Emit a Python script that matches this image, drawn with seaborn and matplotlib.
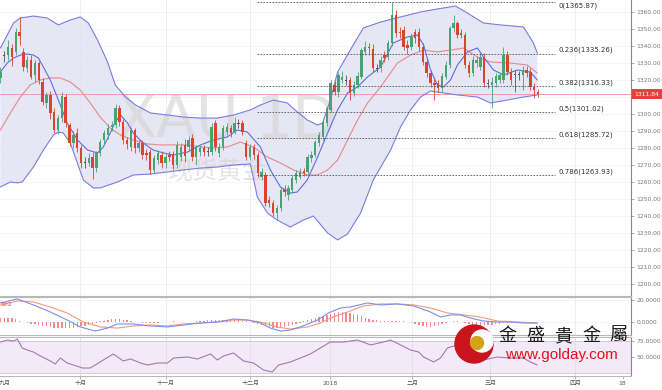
import numpy as np
import matplotlib
matplotlib.use("Agg")
import matplotlib.pyplot as plt
import seaborn as sns
from matplotlib.patches import Circle, Rectangle

# ---------------- data ----------------
opens = [1321.0, 1334.0, 1334.7, 1338.6, 1336.7, 1348.4, 1336.7, 1326.9, 1331.8, 1322.9,
         1329.8, 1319.0, 1306.3, 1311.2, 1301.4, 1290.6, 1297.5, 1310.2, 1293.5, 1282.7,
         1288.6, 1279.8, 1271.4, 1271.0, 1274.9, 1268.0, 1276.9, 1284.7, 1287.6, 1292.5,
         1293.5, 1303.3, 1295.5, 1284.7, 1280.8, 1290.6, 1279.8, 1282.7, 1276.9, 1277.8,
         1267.1, 1272.9, 1275.9, 1271.0, 1275.9, 1276.5, 1270.0, 1274.9, 1281.8, 1280.8,
         1285.7, 1274.9, 1277.8, 1279.8, 1278.0, 1277.8, 1294.5, 1276.9, 1280.8, 1289.6,
         1291.6, 1289.6, 1294.5, 1294.5, 1283.1, 1274.9, 1280.8, 1275.9, 1263.1, 1264.1,
         1249.4, 1247.5, 1241.6, 1244.5, 1255.7, 1252.4, 1255.3, 1261.2, 1263.1, 1266.7,
         1266.1, 1273.9, 1275.9, 1282.7, 1286.7, 1294.5, 1302.4, 1317.1, 1313.1, 1320.0,
         1320.0, 1320.0, 1312.2, 1317.1, 1322.0, 1336.7, 1339.6, 1338.0, 1326.9, 1326.9,
         1334.7, 1333.7, 1341.6, 1358.2, 1348.4, 1349.4, 1340.6, 1339.6, 1348.4, 1348.4,
         1339.6, 1330.8, 1323.9, 1318.0, 1318.0, 1315.1, 1322.0, 1328.8, 1350.4, 1353.3,
         1347.5, 1346.5, 1328.8, 1323.9, 1329.8, 1327.8, 1333.7, 1318.0, 1317.1, 1318.0,
         1320.0, 1320.0, 1334.7, 1324.9, 1323.0, 1322.7, 1322.9, 1325.9, 1324.9, 1316.1,
         1313.1]
closes = [1325.0, 1334.3, 1339.6, 1333.7, 1348.4, 1345.9, 1327.8, 1331.8, 1322.0, 1329.8,
          1320.0, 1307.3, 1311.2, 1300.4, 1290.6, 1297.5, 1310.6, 1294.5, 1282.7, 1287.6,
          1279.8, 1271.0, 1271.0, 1273.9, 1268.0, 1276.9, 1283.7, 1288.6, 1291.6, 1293.5,
          1303.3, 1295.5, 1284.7, 1282.4, 1290.6, 1279.8, 1282.7, 1275.9, 1275.9, 1267.1,
          1273.9, 1276.9, 1271.0, 1274.9, 1274.9, 1270.0, 1281.8, 1280.8, 1275.3, 1284.7,
          1274.9, 1279.8, 1279.8, 1277.8, 1277.6, 1292.5, 1280.8, 1280.8, 1291.6, 1292.5,
          1288.6, 1294.9, 1294.3, 1289.6, 1274.9, 1280.8, 1275.9, 1265.1, 1266.1, 1247.5,
          1247.5, 1241.6, 1244.5, 1255.3, 1254.3, 1256.3, 1262.2, 1265.1, 1266.1, 1265.1,
          1274.9, 1275.9, 1283.7, 1287.6, 1295.5, 1303.3, 1318.0, 1313.1, 1322.9, 1322.0,
          1319.5, 1312.2, 1317.1, 1322.4, 1337.6, 1339.6, 1338.6, 1326.9, 1326.3, 1331.8,
          1332.7, 1341.6, 1358.2, 1347.5, 1347.5, 1339.6, 1338.6, 1345.5, 1344.5, 1339.6,
          1330.8, 1323.9, 1318.0, 1317.1, 1315.1, 1322.4, 1328.8, 1350.4, 1353.3, 1346.5,
          1346.5, 1328.8, 1323.9, 1331.8, 1331.8, 1333.7, 1318.0, 1317.6, 1319.0, 1322.4,
          1322.9, 1334.7, 1324.9, 1320.0, 1322.7, 1323.0, 1325.9, 1323.9, 1316.1, 1314.1,
          1311.8]
highs = [1327.5, 1337.0, 1343.5, 1341.0, 1350.5, 1357.0, 1339.0, 1334.0, 1334.5, 1331.5,
         1331.0, 1321.0, 1313.0, 1313.5, 1303.5, 1299.5, 1313.0, 1312.0, 1295.0, 1290.0,
         1291.5, 1281.5, 1274.5, 1277.0, 1277.5, 1278.5, 1285.5, 1290.5, 1294.0, 1296.0,
         1306.0, 1305.5, 1297.0, 1286.5, 1292.5, 1292.0, 1285.0, 1284.5, 1279.5, 1279.5,
         1276.0, 1279.0, 1278.0, 1277.0, 1278.5, 1278.5, 1284.0, 1283.0, 1285.5, 1287.0,
         1288.0, 1282.0, 1282.0, 1282.0, 1280.5, 1294.5, 1296.5, 1283.0, 1293.5, 1294.5,
         1293.5, 1298.0, 1297.0, 1296.5, 1285.0, 1282.5, 1282.5, 1277.5, 1268.0, 1266.0,
         1251.5, 1249.5, 1246.5, 1257.0, 1258.0, 1258.5, 1264.0, 1267.0, 1268.0, 1268.5,
         1276.5, 1278.0, 1285.0, 1289.5, 1297.0, 1305.0, 1320.0, 1319.5, 1325.0, 1325.5,
         1323.0, 1322.0, 1319.5, 1324.5, 1339.0, 1343.0, 1342.0, 1341.0, 1329.5, 1334.0,
         1337.0, 1343.5, 1365.9, 1361.0, 1351.0, 1351.5, 1343.5, 1347.5, 1350.0, 1350.5,
         1342.0, 1333.0, 1326.0, 1320.5, 1320.0, 1324.0, 1331.0, 1352.0, 1358.5, 1355.0,
         1350.0, 1348.5, 1331.0, 1334.0, 1334.0, 1336.0, 1336.0, 1320.5, 1321.5, 1324.0,
         1325.0, 1339.5, 1337.0, 1327.0, 1326.0, 1325.5, 1328.0, 1328.0, 1327.0, 1318.0,
         1314.5]
lows = [1318.5, 1330.5, 1332.0, 1328.0, 1335.0, 1340.5, 1325.5, 1325.0, 1320.5, 1319.0,
        1317.5, 1305.5, 1303.5, 1297.0, 1289.0, 1288.5, 1295.5, 1292.5, 1281.0, 1280.0,
        1277.5, 1268.5, 1268.0, 1269.5, 1261.5, 1266.0, 1275.5, 1282.5, 1285.5, 1290.0,
        1291.5, 1293.0, 1282.5, 1279.5, 1278.5, 1277.0, 1277.5, 1273.5, 1273.0, 1264.5,
        1265.5, 1270.5, 1268.5, 1268.5, 1272.5, 1267.5, 1268.5, 1272.5, 1272.0, 1278.5,
        1272.5, 1270.0, 1275.5, 1275.5, 1275.0, 1276.0, 1278.5, 1274.5, 1279.0, 1287.5,
        1286.5, 1288.0, 1291.5, 1287.5, 1273.0, 1273.0, 1273.5, 1263.0, 1261.0, 1246.0,
        1245.0, 1240.0, 1237.6, 1243.0, 1252.0, 1249.5, 1253.5, 1259.5, 1261.5, 1263.5,
        1264.5, 1272.0, 1274.5, 1281.0, 1285.0, 1293.0, 1301.0, 1311.0, 1310.0, 1318.0,
        1317.0, 1308.5, 1310.5, 1315.5, 1320.5, 1334.5, 1335.0, 1325.0, 1324.5, 1325.0,
        1330.5, 1332.0, 1340.0, 1345.5, 1345.0, 1337.5, 1335.5, 1337.5, 1342.0, 1337.0,
        1329.0, 1321.5, 1316.0, 1308.0, 1313.0, 1313.0, 1320.5, 1327.0, 1348.5, 1344.5,
        1344.5, 1327.0, 1322.0, 1322.5, 1327.5, 1326.0, 1316.0, 1315.5, 1303.5, 1316.0,
        1318.0, 1318.5, 1323.0, 1317.0, 1313.0, 1320.0, 1314.0, 1321.5, 1314.0, 1309.5,
        1310.0]

# Bollinger band outline (candle index, price)
upper_x = [0, 1.8, 3.4, 5.2, 8.6, 12.2, 15.1, 18.2, 20.8, 22.9, 25.3, 27.9, 29.9, 32.6, 35.2,
           39.1, 43.5, 47.7, 52.1, 56.5, 60.7, 65.1, 67.7, 71.1, 74.7, 77.3, 79.9, 82.6, 83.9,
           85.9, 87.8, 91.1, 94.5, 99.0, 104.2, 109.4, 113.8, 118.5, 121.6, 125.8, 130.2,
           136.2, 138.8, 139.8]
upper = [1338.8, 1346.5, 1353.5, 1356.5, 1357.6, 1356.5, 1352.4, 1355.3, 1357.1, 1353.5,
         1343.5, 1330.6, 1317.1, 1310.0, 1305.3, 1300.6, 1299.4, 1298.2, 1297.6, 1297.6,
         1299.4, 1302.4, 1305.3, 1308.2, 1306.5, 1301.2, 1296.5, 1293.5, 1294.7, 1308.2,
         1324.7, 1337.6, 1350.6, 1354.1, 1357.1, 1360.0, 1361.8, 1363.5, 1359.4, 1353.5,
         1352.4, 1351.2, 1341.8, 1335.9]
lower_x = [0, 2.6, 4.4, 5.7, 8.6, 11.2, 13.8, 15.1, 16.4, 18.2, 21.6, 24.2, 26.0, 30.5, 34.6,
           39.1, 43.5, 47.7, 52.1, 56.5, 60.7, 65.1, 66.9, 69.5, 72.1, 75.5, 78.9, 81.5, 85.2,
           87.8, 90.4, 93.8, 97.1, 101.6, 104.2, 106.8, 109.4, 112.0, 115.4, 119.0, 124.2,
           127.6, 132.0, 136.2, 139.8]
lower = [1257.1, 1260.0, 1259.5, 1260.0, 1268.8, 1278.8, 1287.6, 1289.4, 1288.8, 1282.9,
         1261.2, 1256.5, 1256.5, 1260.0, 1264.1, 1264.7, 1265.9, 1267.1, 1268.2, 1268.8,
         1270.0, 1270.6, 1251.2, 1241.8, 1237.6, 1233.5, 1237.6, 1240.0, 1230.0, 1225.9,
         1229.4, 1241.8, 1261.2, 1278.8, 1292.4, 1302.4, 1310.0, 1313.5, 1312.4, 1311.2,
         1310.0, 1306.5, 1308.2, 1310.0, 1311.2]

# fast (blue) moving average
fast_x = [0, 1.8, 3.4, 5.2, 7.0, 8.6, 9.9, 11.2, 13.0, 15.1, 17.4, 20.1, 22.7, 25.3, 26.8,
          28.6, 29.9, 31.3, 33.1, 34.6, 37.2, 39.8, 42.4, 45.1, 48.7, 52.1, 55.5, 59.1, 61.7,
          64.3, 67.7, 70.3, 72.9, 75.5, 77.3, 79.9, 82.6, 85.2, 87.8, 90.4, 93.0, 95.6, 99.0,
          102.3, 106.0, 108.6, 110.2, 112.0, 113.8, 115.4, 117.2, 119.0, 121.6, 124.2, 125.8,
          128.4, 131.0, 134.6, 138.0, 139.8]
fast_ma = [1324.7, 1330.0, 1332.9, 1334.7, 1335.3, 1334.7, 1332.9, 1327.6, 1320.0, 1308.2,
           1294.7, 1284.7, 1278.8, 1277.1, 1280.6, 1288.8, 1295.3, 1299.4, 1294.7, 1288.8,
           1282.9, 1278.8, 1277.1, 1275.9, 1277.6, 1281.8, 1284.7, 1286.5, 1290.6, 1289.4,
           1280.6, 1267.1, 1257.1, 1253.5, 1254.1, 1261.2, 1274.7, 1288.8, 1302.4, 1312.4,
           1315.9, 1321.8, 1327.6, 1341.8, 1345.3, 1346.5, 1340.6, 1325.9, 1317.1, 1315.9,
           1320.0, 1328.8, 1336.5, 1338.8, 1333.5, 1325.9, 1322.9, 1325.9, 1324.7, 1320.0]

# slow (red) moving average
slow_x = [0, 2.6, 5.2, 7.8, 10.4, 13.0, 15.6, 18.2, 20.8, 23.4, 26.0, 28.6, 31.3, 34.6, 38.3,
          41.7, 45.1, 48.7, 52.1, 55.5, 59.1, 62.5, 65.9, 69.5, 72.9, 76.3, 79.9, 82.6, 85.2,
          87.8, 90.4, 93.0, 95.6, 99.0, 103.4, 106.8, 110.2, 113.8, 117.2, 120.6, 124.2,
          127.6, 132.8, 137.2, 139.8]
slow_ma = [1290.6, 1300.6, 1310.0, 1317.1, 1320.0, 1321.2, 1321.2, 1318.8, 1314.1, 1306.5,
           1298.2, 1291.8, 1287.6, 1284.7, 1282.4, 1281.8, 1281.8, 1281.8, 1280.6, 1280.0,
           1280.6, 1283.5, 1280.6, 1274.7, 1271.2, 1267.1, 1264.1, 1264.1, 1267.1, 1272.9,
           1284.7, 1296.5, 1306.5, 1315.9, 1330.0, 1334.7, 1337.6, 1336.5, 1337.6, 1338.8,
           1333.5, 1330.6, 1330.0, 1328.8, 1324.1]

# MACD panel
dif_x = [0, 4.4, 8.6, 13.0, 17.4, 20.8, 24.7, 27.9, 30.5, 34.6, 39.1, 43.5, 47.7, 52.1, 56.5,
         60.7, 64.3, 67.7, 70.3, 72.9, 75.5, 78.1, 82.6, 85.4, 88.5, 91.1, 95.6, 99.0, 103.4,
         107.6, 112.0, 114.6, 117.2, 119.8, 122.4, 125.8, 129.4, 132.8, 136.2, 139.8]
dif = [17.3, 20.9, 15.5, 9.1, 1.8, -4.5, -8.2, -5.5, -1.8, -1.8, -3.6, -4.5, -2.7, -0.9, 0.0,
       2.7, 1.8, -0.9, -5.5, -8.2, -7.3, -4.5, 1.8, 8.2, 12.7, 13.6, 17.3, 15.5, 16.4, 14.5,
       9.1, 4.5, 6.4, 6.4, 3.6, 0.9, 0.0, 0.0, -0.9, -0.9]
dea_x = [0, 4.4, 8.6, 13.0, 17.4, 21.6, 26.0, 30.5, 34.6, 39.1, 43.5, 47.7, 52.1, 56.5, 60.7,
         64.3, 67.7, 72.1, 75.5, 79.9, 83.3, 85.9, 90.4, 94.5, 99.0, 103.4, 107.6, 112.0,
         116.4, 120.6, 125.0, 129.4, 134.6, 139.8]
dea = [15.5, 19.1, 18.2, 13.6, 8.2, 0.0, -4.5, -5.5, -3.6, -2.7, -3.6, -1.8, -0.9, 0.0, 1.8,
       1.8, 0.0, -4.5, -6.4, -4.5, -0.9, 3.6, 9.1, 14.5, 16.4, 16.4, 15.5, 12.7, 8.2, 6.4,
       4.5, 0.9, 0.0, -0.9]
macd_hist = [3.5, 4, 4, 3.5, 2.5, 1, 0,
             -0.8, -1.5, -2.2, -3, -3.5, -4, -4.5, -5, -5.3, -5.5, -5.5, -5.2, -5, -4.5, -4,
             -3.2, -2.5, -1.8, -1,
             0.5, 1.2, 2, 2.5, 2.8, 2.6, 2, 1.5,
             0.8, 0.3, -0.3, -0.8, -1, -1, -0.8, -0.5, -0.3, 0, 0.3, 0.5, 0.3, 0, -0.3, -0.2,
             0.2, 0.6, 1.0,
             1.3, 1.6, 1.8, 2, 2, 1.8, 1.6, 1.5, 1.5, 1.4, 1.2, 0.8, 0.3, -0.5,
             -1.5, -2.5, -3.5, -4.3, -5, -5.3, -5.2, -4.8, -4, -3, -2, -0.8,
             0.5, 1.5, 2.5, 3.5, 4.5, 5.5, 6.5, 7.5,
             8.5, 9, 9.2, 8.8, 8, 7, 6,
             5, 4, 3, 2,
             1.5, 1, 1, 0.8, 0.5, 0.8, 1, 0.5, 0,
             -1, -2, -3, -4, -4.5, -4.5, -4, -3, -1.5,
             -0.5, 0, 0.5, 0.5, 0, -0.5,
             -1.5, -2.5, -3, -3.2, -3, -2.8, -2.5, -2, -1.5,
             -1.2, -1, -1, -0.8, -0.8, -0.6, -0.5, -0.5, -0.4, -0.4]

# RSI panel
rsi_x = [0, 1.8, 3.4, 4.4, 5.7, 7.0, 8.6, 10.4, 13.0, 14.3, 15.6, 17.4, 19.0, 21.4, 23.4,
         24.7, 26.8, 29.4, 32.0, 33.9, 36.5, 38.3, 40.9, 43.5, 45.1, 48.7, 51.3, 54.7, 56.5,
         58.1, 60.7, 63.3, 65.9, 68.5, 70.8, 72.4, 75.5, 78.1, 80.7, 83.3, 85.9, 89.3, 93.0,
         96.4, 99.7, 101.6, 104.2, 106.8, 108.9, 110.2, 112.8, 114.6, 116.4, 119.0, 122.4,
         125.8, 129.4, 132.8, 136.2, 138.0, 139.8]
rsi = [73.4, 76.6, 75.0, 78.1, 64.1, 60.9, 57.8, 51.6, 43.8, 39.1, 48.4, 40.6, 37.5, 32.8,
       32.8, 37.5, 45.3, 54.7, 43.8, 46.9, 40.6, 37.5, 40.6, 40.6, 48.4, 50.0, 46.9, 54.7,
       45.3, 51.6, 56.3, 43.8, 40.6, 29.7, 26.6, 37.5, 42.2, 48.4, 54.7, 64.1, 73.4, 73.4,
       76.6, 68.8, 73.4, 76.6, 68.8, 60.9, 57.8, 50.0, 42.2, 48.4, 64.1, 68.8, 57.8, 45.3,
       50.0, 48.4, 48.4, 42.2, 37.5]

fib_ratios = [0, 0.236, 0.382, 0.5, 0.618, 0.786]
fib_levels = [1365.87, 1335.26, 1316.33, 1301.02, 1285.72, 1263.93]
fib_start, fib_end = 66.9, 144.5
last_price = 1311.84

month_labels = ["九月", "十月", "十一月", "十二月", "2018", "二月", "三月", "四月", "18"]
month_pos = [1.2, 20.8, 43.0, 65.1, 85.9, 107.3, 127.6, 149.7, 162.0]
grid_pos = [20.8, 43.0, 65.1, 85.9, 107.3, 127.6, 149.7]

# ---------------- style ----------------
sns.set_theme(style="white")
plt.rcParams['font.family'] = ['DejaVu Sans', 'Noto Sans CJK SC']

W, H = 662, 390
fig = plt.figure(figsize=(W / 100, H / 100), dpi=100)
fig.patch.set_facecolor("white")


def px_axes(top, bottom, right=631):
    return fig.add_axes([0, 1 - bottom / H, right / W, (bottom - top) / H])


ax = px_axes(0, 296)
ax2 = px_axes(297, 335)
ax3 = px_axes(337, 376)
XL = (-0.1, 164.2)

for a in (ax, ax2, ax3):
    a.set_facecolor("white")
    a.set_xlim(*XL)
    for p in grid_pos:
        a.axvline(p, color="#ececec", lw=0.6, zorder=0)
    a.spines["left"].set_visible(False)
    for s in ("top", "bottom"):
        a.spines[s].set_color("#b8b8b8")
        a.spines[s].set_linewidth(0.8)
    a.spines["right"].set_color("#888888")
    a.spines["right"].set_linewidth(0.8)
    a.yaxis.tick_right()
    a.tick_params(axis="y", which="both", right=True, left=False, length=2.5, width=0.5,
                  color="#888888", labelsize=4.3, labelcolor="#777777", pad=1.5)
    a.tick_params(axis="x", bottom=False, labelbottom=False)
ax.spines["top"].set_visible(False)

# ---------------- main price panel ----------------
price_ticks = np.arange(1200, 1361, 10)
for v in price_ticks:
    ax.axhline(v, color="#f1f1f1", lw=0.5, zorder=0)
ax.set_ylim(1192.94, 1367.06)
ax.set_yticks(price_ticks)
ax.set_yticklabels([f"{v:.2f}" for v in price_ticks])

# watermark
ax.text(178 / W, 1 - 121 / H, "XAU", transform=fig.transFigure, fontsize=42, color="#d2d2d2",
        alpha=0.6, ha="center", va="center", zorder=1.5)
ax.text(297 / W, 1 - 121 / H, "1D", transform=fig.transFigure, fontsize=42, color="#d2d2d2",
        alpha=0.6, ha="center", va="center", zorder=1.5)
ax.text(218 / W, 1 - 172 / H, "现货黄金", transform=fig.transFigure, fontsize=18,
        color="#d2d2d2", alpha=0.6, ha="center", va="center", zorder=1.5,
        family=["Noto Sans CJK SC"])

# bollinger band area
ax.fill(np.r_[upper_x, lower_x[::-1]], np.r_[upper, lower[::-1]], color="#e2e2f3",
        alpha=0.85, lw=0, zorder=1)
sns.lineplot(x=upper_x, y=upper, ax=ax, color="#7c7ce0", lw=0.8, zorder=3, legend=False)
sns.lineplot(x=lower_x, y=lower, ax=ax, color="#7c7ce0", lw=0.8, zorder=3, legend=False)
sns.lineplot(x=slow_x, y=slow_ma, ax=ax, color="#e58a8a", lw=0.8, zorder=3, legend=False)
sns.lineplot(x=fast_x, y=fast_ma, ax=ax, color="#5b6fe6", lw=0.8, zorder=3, legend=False)

ax.axhline(last_price, color="#f0a0a0", lw=0.7, zorder=2)

# candles
o = np.array(opens); c = np.array(closes); hi = np.array(highs); lo = np.array(lows)
idx = np.arange(len(o))
cols = np.where(np.abs(c - o) < 0.7, "#555555", np.where(c >= o, "#46a472", "#d8442e"))
ax.vlines(idx, lo, hi, colors=cols, lw=0.6, zorder=4)
ax.bar(idx, np.maximum(np.abs(c - o), 0.6), bottom=np.minimum(o, c), width=0.62,
       color=cols, linewidth=0, zorder=5)

# fibonacci levels
ax.hlines(fib_levels, fib_start, fib_end, colors="#555555", linestyles=(0, (2, 1.6)),
          lw=0.6, zorder=6)
for r, lv in zip(fib_ratios, fib_levels):
    if lv > 1362:
        # the top label sits just under the frame edge
        ax.text(fib_end + 0.8, lv - 0.2, f"{r:g}({lv:.2f})", fontsize=5, color="#333333",
                ha="left", va="top", zorder=7, clip_on=False)
    else:
        ax.text(fib_end + 0.8, lv + 0.4, f"{r:g}({lv:.2f})", fontsize=5, color="#333333",
                ha="left", va="bottom", zorder=7, clip_on=False)

# last price tag on the axis
fig.patches.append(Rectangle((632 / W, 1 - 99 / H), 30 / W, 10 / H, transform=fig.transFigure,
                             facecolor="#e0443c", edgecolor="none", zorder=8))
fig.text(647 / W, 1 - 94 / H, f"{last_price:.2f}", fontsize=4.3, color="white",
         ha="center", va="center", zorder=9)

# ---------------- MACD panel ----------------
ax2.axhline(0, color="#f0f0f0", lw=0.5, zorder=0)
ax2.axhline(20, color="#f0f0f0", lw=0.5, zorder=0)
ax2.bar(idx, macd_hist, width=0.35, color="#f08a8a", linewidth=0, zorder=2)
sns.lineplot(x=dea_x, y=dea, ax=ax2, color="#f29a7a", lw=0.8, zorder=3, legend=False)
sns.lineplot(x=dif_x, y=dif, ax=ax2, color="#7b8ff2", lw=0.8, zorder=3, legend=False)
ax2.set_ylim(-11.8, 22.7)
ax2.set_yticks([0, 20])
ax2.set_yticklabels(["0.0000", "20.0000"])
fig.text(0.5 / W, 1 - 305 / H, "502", fontsize=4.5, color="#e05050", ha="left", va="center")

# ---------------- RSI panel ----------------
ax3.axhspan(25, 75, color="#f4e9f6", zorder=0, lw=0)
ax3.axhline(75, color="#cfc3d3", lw=0.6, zorder=1)
ax3.axhline(25, color="#cfc3d3", lw=0.6, zorder=1)
for p in grid_pos:
    ax3.axvline(p, color="#e6dbe9", lw=0.6, zorder=0.5)
sns.lineplot(x=rsi_x, y=rsi, ax=ax3, color="#a27ab2", lw=0.8, zorder=3, legend=False)
ax3.set_ylim(20.3, 81.25)
ax3.set_yticks([50, 75])
ax3.set_yticklabels(["50.0000", "75.0000"])
ax3.set_xticks(month_pos[1:])
ax3.tick_params(axis="x", bottom=True, length=2, width=0.5, color="#999999",
                labelbottom=False)
for lab, p in zip(month_labels, month_pos):
    ax3.text(p, -0.19, lab, transform=ax3.get_xaxis_transform(), fontsize=4.3,
             color="#555555", ha="center", va="center", clip_on=False)

# ---------------- logo ----------------
lax = fig.add_axes([452 / W, 1 - 366 / H, 44 / W, 44 / H])
lax.set_xlim(452, 496); lax.set_ylim(366, 322)
lax.axis("off"); lax.patch.set_alpha(0)
lax.add_patch(Circle((474, 344), 19, color="#c8141c", zorder=1))
lax.add_patch(Circle((482, 341), 11, color="white", zorder=2))
lax.add_patch(Circle((477, 343), 6.5, color="#d4a21a", zorder=3))
for ch, xp in zip(["金", "盛", "貴", "金", "屬"], [507, 535, 563, 591, 618]):
    fig.text(xp / W, 1 - 336 / H, ch, fontsize=13, color="#1a1a1a", ha="center",
             va="center", family=["Noto Sans CJK TC"], zorder=10)
fig.text(561 / W, 1 - 355 / H, "www.golday.com", fontsize=11, color="#e8101c", ha="center",
         va="center", family=["Liberation Sans"], zorder=10)

fig.savefig("out.png", dpi=100)
